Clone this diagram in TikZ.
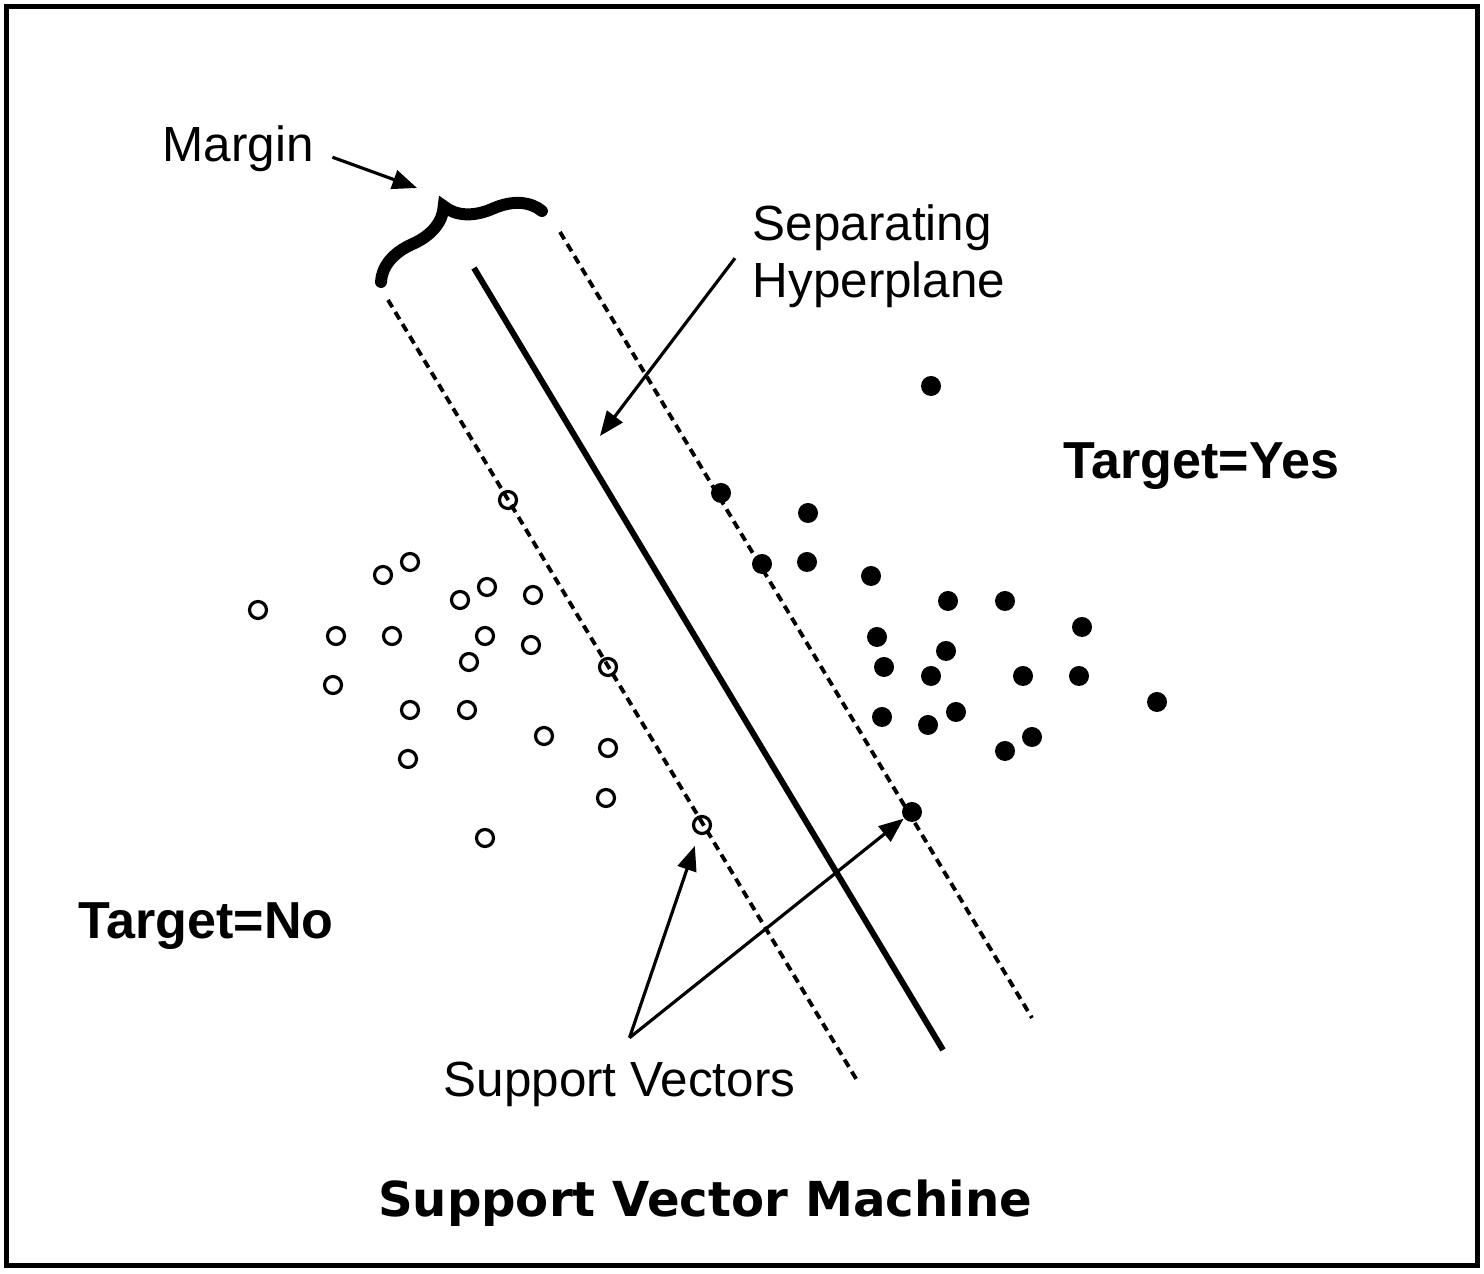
\documentclass[tikz,border=0pt]{standalone}
\usepackage{fontspec}
\setmainfont{Liberation Sans}
\newfontfamily\titlefont{DejaVu Sans}
\usetikzlibrary{arrows.meta,decorations.pathreplacing}
\begin{document}
\begin{tikzpicture}[x=0.01cm,y=-0.01cm,
  negdot/.style={circle,draw,line width=0.9pt,minimum size=0.17cm,inner sep=0pt},
  posdot/.style={circle,fill,minimum size=0.2cm,inner sep=0pt},
  hyper/.style={line width=1.7pt},
  margline/.style={line width=1.1pt,dash pattern=on 2.4pt off 1.6pt},
  pointer/.style={line width=0.9pt,-{Triangle[length=7pt,width=5.5pt]}},
  lbl/.style={font=\fontsize{14.05pt}{15.4pt}\selectfont,inner sep=0pt},
  tgt/.style={font=\fontsize{14.8pt}{16pt}\selectfont\bfseries,inner sep=0pt},
  bracestyle/.style={line width=3.4pt,line cap=round,decorate,decoration={brace,amplitude=0.44cm}}]
\useasboundingbox (0,0) rectangle (1484,1274);
\draw[line width=1.42pt] (6.7,6.7) rectangle (1477,1266);

% lines
\coordinate (hA) at (474,268); \coordinate (hB) at (943,1050);
\coordinate (lA) at (388,300); \coordinate (lB) at (858,1082);
\coordinate (rA) at (560,232); \coordinate (rB) at (1032,1018);
\draw[hyper] (hA) -- (hB);
\draw[margline] (lA) -- (lB);
\draw[margline] (rA) -- (rB);

% brace
\coordinate (bL) at (381,282); \coordinate (bR) at (542,211);
\draw[bracestyle] (bL) -- (bR);

% negative points
\foreach \x/\y [count=\i] in {410/562,383/575,258/610,336/636,392/636,460/600,487/587,533/595,485/636,531/645,469/662,333/685,410/710,467/710,544/736,608/748,408/759,606/798,485/838}
  \node[negdot] (n\i) at (\x,\y) {};
\node[negdot] (nsv1) at (508,500) {};
\node[negdot] (nsv2) at (608,667) {};
\node[negdot] (nsv3) at (702,825) {};

% positive points
\foreach \x/\y [count=\i] in {931/386,808/513,807/562,871/576,948/601,1005/601,1082/627,877/637,946/651,884/667,931/676,1023/676,1079/676,1157/702,882/717,956/712,928/725,1032/737,1005/751}
  \node[posdot] (p\i) at (\x,\y) {};
\node[posdot] (psv1) at (721,493) {};
\node[posdot] (psv2) at (762,564) {};
\node[posdot] (psv3) at (912,812) {};

% labels
\node[lbl,anchor=base west] (margin) at (162,162) {Margin};
\coordinate (mtip) at (417,188);
\draw[pointer] ([shift={(18,8)}]margin.east) -- (mtip);

\node[lbl,anchor=north west,align=left] (sep) at (752,204) {Separating\\[0.8pt]Hyperplane};
\coordinate (htip) at (600,436);
\draw[pointer] ([shift={(-17,2)}]sep.west) -- (htip);

\node[tgt,anchor=base west] (yes) at (1063,479) {Target=Yes};
\node[tgt,anchor=base west] (no) at (78,939) {Target=No};

\node[lbl,anchor=base west] (svl) at (443,1097) {Support Vectors};
\coordinate (svo) at ([shift={(10,-24)}]svl.north);
\draw[pointer,shorten >=0.12cm] (svo) -- (nsv3);
\draw[pointer] (svo) -- (psv3);

\node[font=\fontsize{13.7pt}{16pt}\titlefont\bfseries,inner sep=0pt] (title) at (705,1203) {Support Vector Machine};
\end{tikzpicture}
\end{document}
